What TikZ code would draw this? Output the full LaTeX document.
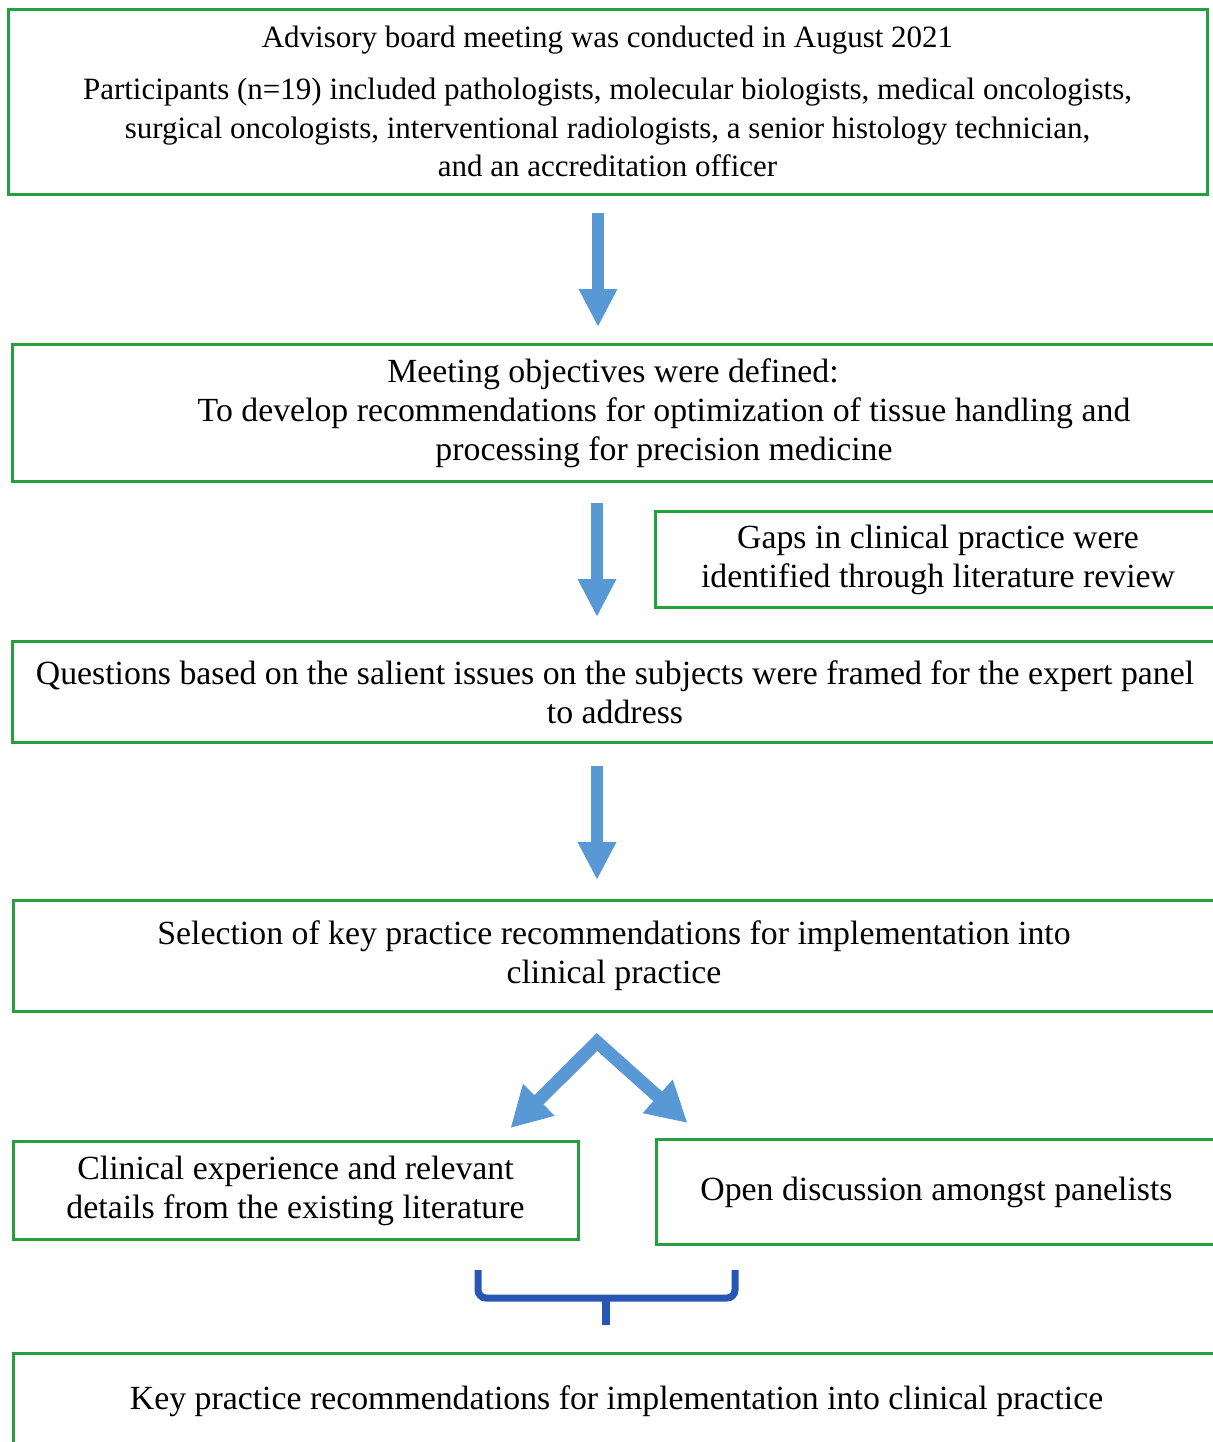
\documentclass[tikz,border=0pt]{standalone}
\usepackage{fontspec}
\setmainfont{Liberation Serif}
\usetikzlibrary{arrows.meta,calc}
\definecolor{boxgreen}{RGB}{38,160,62}
\definecolor{arrowblue}{RGB}{88,152,212}
\definecolor{bracketblue}{RGB}{40,86,180}
\tikzset{
  box/.style={draw=boxgreen, line width=1.5pt, align=center, inner sep=0pt,
    font=\fontsize{16.9}{19.5}\selectfont},
  smallbox/.style={box, font=\fontsize{15.5}{19.25}\selectfont},
  flowarrow/.style={arrowblue, line width=6pt, -{Triangle[length=19pt,width=18pt]}},
  bracket/.style={bracketblue, line width=3.5pt, rounded corners=4pt},
}
\begin{document}
\begin{tikzpicture}[x=0.5pt,y=-0.5pt]
    \clip (0,0) rectangle (1213,1442);
    % Draw the boxes
    \node[smallbox, minimum width=599.5pt, minimum height=92.5pt] (b1) at (607.5,101.5)
      {Advisory board meeting was conducted in August 2021\\[7pt]
       Participants (n=19) included pathologists, molecular biologists, medical oncologists,\\
       surgical oncologists, interventional radiologists, a senior histology technician,\\
       and an accreditation officer};
    \node[box, minimum width=652pt, minimum height=68.5pt] (b2) at (664,413)
      {Meeting objectives were defined:\hspace*{51pt}\\
       To develop recommendations for optimization of tissue handling and\\
       processing for precision medicine};
    \node[box, minimum width=283pt, minimum height=48pt] (gaps) at (938,559.5)
      {Gaps in clinical practice were\\ identified through literature review};
    \node[box, minimum width=603pt, minimum height=50.5pt] (b3) at (615,692)
      {Questions based on the salient issues on the subjects were framed for the expert panel\\
       to address};
    \node[box, minimum width=601pt, minimum height=55.5pt] (b4) at (614,956)
      {Selection of key practice recommendations for implementation into\\ clinical practice};
    \node[box, minimum width=282.5pt, minimum height=49pt] (b5) at (295.5,1190.5)
      {Clinical experience and relevant\\ details from the existing literature};
    \node[box, minimum width=280.5pt, minimum height=52.5pt] (b6) at (936.5,1192)
      {Open discussion amongst panelists};
    \node[box, minimum width=603.5pt, minimum height=48pt] (b7) at (616.5,1401)
      {Key practice recommendations for implementation into clinical practice};
    % Draw the down arrows
    \draw[flowarrow, shorten <=8.5pt, shorten >=8pt] (598,0 |- b1.south) -- (598,0 |- b2.north);
    \draw[flowarrow, shorten <=10pt, shorten >=11.5pt] (597,0 |- b2.south) -- (597,0 |- b3.north);
    \draw[flowarrow, shorten <=11pt, shorten >=9.5pt] (597,0 |- b3.south) -- (597,0 |- b4.north);
    % Draw the split arrow
    \coordinate (fork) at ($(b4.south)+(-17,29)$);
    \draw[flowarrow, line width=6.5pt, {Triangle[length=20pt,width=21pt]}-{Triangle[length=20pt,width=21pt]}, miter limit=4]
      ($(b5.north east)+(-69,-12)$) -- (fork) -- ($(b6.north west)+(33,-15)$);
    % Draw the bracket
    \coordinate (join) at (606,1298);
    \draw[bracket] (478,1270) |- (735,1298) -- (735,1270);
    \draw[bracketblue, line width=4pt] (join) -- ($(join)+(0,27)$);
\end{tikzpicture}
\end{document}
